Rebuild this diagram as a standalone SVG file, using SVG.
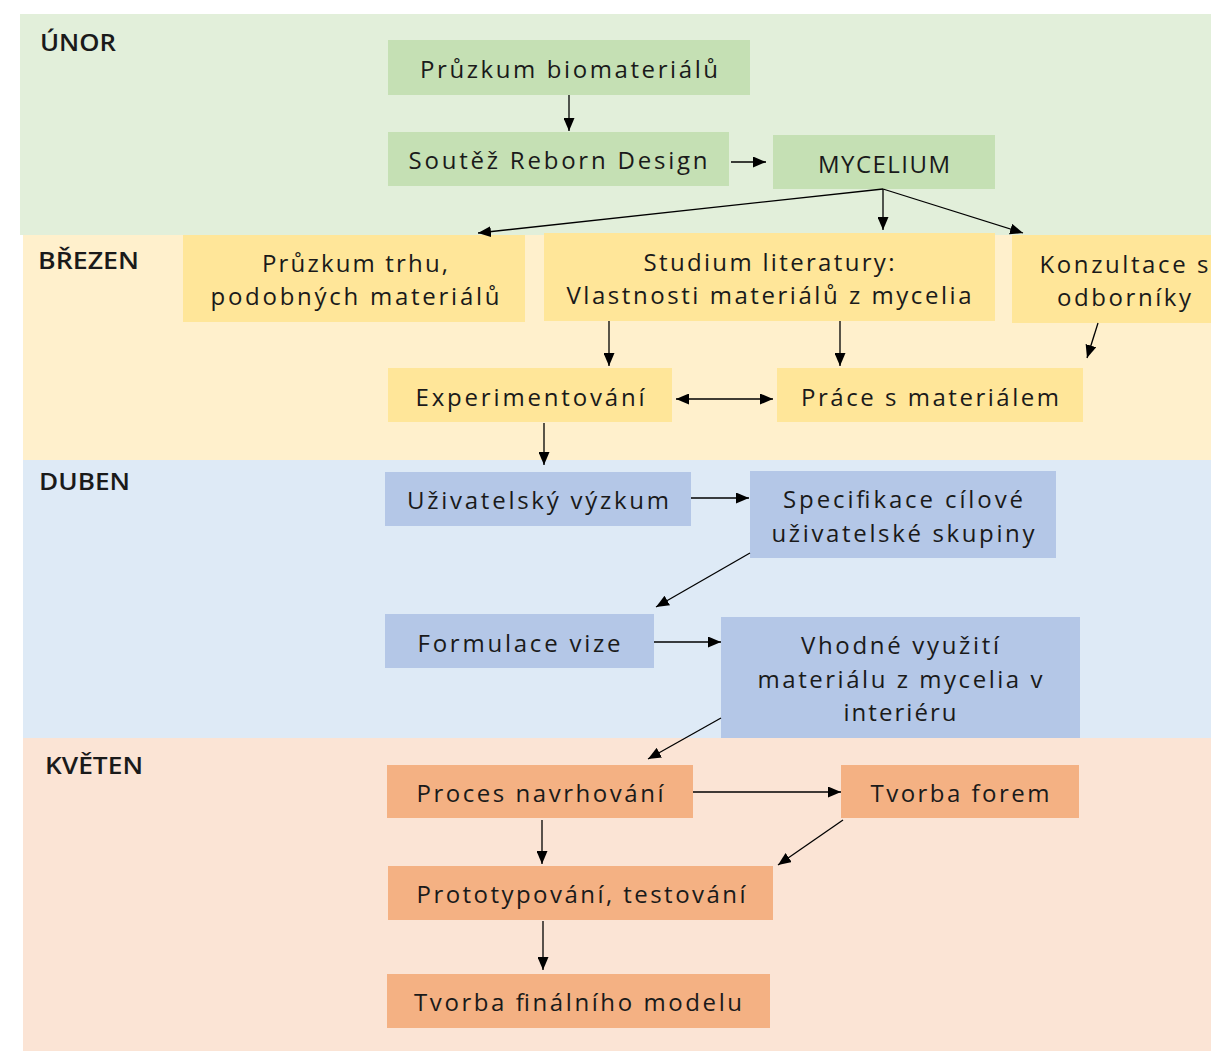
<svg xmlns="http://www.w3.org/2000/svg" width="1211" height="1051" viewBox="0 0 1211 1051">
<defs>
<style>
text{font-family:"Open Sans","Liberation Sans","DejaVu Sans",sans-serif;fill:#1a1a1a;}
.t{font-size:24px;text-anchor:middle;}
.m{font-size:23px;font-weight:600;}
.g{fill:#c5e0b4;}
.y{fill:#ffe699;}
.b{fill:#b4c7e7;}
.o{fill:#f4b183;}
.c{stroke:#000;stroke-width:1.3;fill:none;marker-end:url(#ah);}
</style>
<marker id="ah" viewBox="0 0 13 11" refX="13" refY="5.5" markerWidth="13" markerHeight="11" markerUnits="userSpaceOnUse" orient="auto">
<path d="M0,0 L13,5.5 L0,11 z" fill="#000"/>
</marker>
<marker id="as" viewBox="0 0 13 11" refX="0" refY="5.5" markerWidth="13" markerHeight="11" markerUnits="userSpaceOnUse" orient="auto">
<path d="M13,0 L0,5.5 L13,11 z" fill="#000"/>
</marker>
</defs>
<rect width="1211" height="1051" fill="#fff"/>
<g id="bands">
<rect x="20" y="14" width="1191" height="221" fill="#e2efda"/>
<rect x="23" y="235" width="1188" height="225" fill="#fff0cc"/>
<rect x="23" y="460" width="1188" height="278" fill="#deeaf6"/>
<rect x="23" y="738" width="1188" height="313" fill="#fbe4d5"/>
<text class="m" x="40" y="51" textLength="76" lengthAdjust="spacingAndGlyphs">ÚNOR</text>
<text class="m" x="38" y="269" textLength="101" lengthAdjust="spacingAndGlyphs">BŘEZEN</text>
<text class="m" x="39" y="490" textLength="91" lengthAdjust="spacingAndGlyphs">DUBEN</text>
<text class="m" x="45" y="774" textLength="98" lengthAdjust="spacingAndGlyphs">KVĚTEN</text>
</g>
<g id="n1"><rect class="g" x="388" y="40" width="362" height="55"/><text class="t" x="569" y="78" textLength="298">Průzkum biomateriálů</text></g>
<g id="n2"><rect class="g" x="388" y="132" width="341" height="54"/><text class="t" x="558" y="169" textLength="299">Soutěž Reborn Design</text></g>
<g id="n3"><rect class="g" x="773" y="135" width="222" height="54"/><text class="t" x="884" y="173" textLength="132">MYCELIUM</text></g>
<g id="n4"><rect class="y" x="183" y="235" width="342" height="87"/><text class="t" x="355" y="272" textLength="186">Průzkum trhu,</text><text class="t" x="355" y="305" textLength="289">podobných materiálů</text></g>
<g id="n5"><rect class="y" x="544" y="233" width="451" height="88"/><text class="t" x="769" y="271" textLength="251">Studium literatury:</text><text class="t" x="769" y="304" textLength="405">Vlastnosti materiálů z mycelia</text></g>
<g id="n6"><rect class="y" x="1012" y="235" width="199" height="88"/><text class="t" x="1124" y="273" textLength="169">Konzultace s</text><text class="t" x="1124" y="306" textLength="134">odborníky</text></g>
<g id="n7"><rect class="y" x="388" y="368" width="284" height="54"/><text class="t" x="530" y="406" textLength="229">Experimentování</text></g>
<g id="n8"><rect class="y" x="777" y="368" width="306" height="54"/><text class="t" x="930" y="406" textLength="258">Práce s materiálem</text></g>
<g id="n9"><rect class="b" x="385" y="472" width="306" height="54"/><text class="t" x="538" y="509" textLength="262">Uživatelský výzkum</text></g>
<g id="n10"><rect class="b" x="750" y="471" width="306" height="87"/><text class="t" x="903" y="508" textLength="240">Specifikace cílové</text><text class="t" x="903" y="542" textLength="263">uživatelské skupiny</text></g>
<g id="n11"><rect class="b" x="385" y="614" width="269" height="54"/><text class="t" x="519" y="652" textLength="203">Formulace vize</text></g>
<g id="n12"><rect class="b" x="721" y="617" width="359" height="121"/><text class="t" x="900" y="654" textLength="198">Vhodné využití</text><text class="t" x="900" y="688" textLength="285">materiálu z mycelia v</text><text class="t" x="900" y="721" textLength="113">interiéru</text></g>
<g id="n13"><rect class="o" x="387" y="765" width="306" height="53"/><text class="t" x="540" y="802" textLength="247">Proces navrhování</text></g>
<g id="n14"><rect class="o" x="841" y="765" width="238" height="53"/><text class="t" x="960" y="802" textLength="179">Tvorba forem</text></g>
<g id="n15"><rect class="o" x="388" y="866" width="385" height="54"/><text class="t" x="581" y="903" textLength="329">Prototypování, testování</text></g>
<g id="n16"><rect class="o" x="387" y="974" width="383" height="54"/><text class="t" x="578" y="1011" textLength="328">Tvorba finálního modelu</text></g>
<g id="connectors">
<line class="c" x1="569" y1="95" x2="569" y2="131"/>
<line class="c" x1="731" y1="162" x2="766" y2="162"/>
<line class="c" x1="883" y1="189" x2="478" y2="233"/>
<line class="c" x1="883" y1="189" x2="883" y2="230"/>
<line class="c" x1="883" y1="189" x2="1023" y2="233"/>
<line class="c" x1="609" y1="321" x2="609" y2="366"/>
<line class="c" x1="840" y1="321" x2="840" y2="366"/>
<line class="c" x1="1098" y1="323" x2="1087" y2="358"/>
<line class="c" x1="676" y1="399" x2="773" y2="399" marker-start="url(#as)"/>
<line class="c" x1="544" y1="423" x2="544" y2="465"/>
<line class="c" x1="691" y1="498" x2="749" y2="498"/>
<line class="c" x1="750" y1="553" x2="656" y2="607"/>
<line class="c" x1="654" y1="642" x2="721" y2="642"/>
<line class="c" x1="721" y1="718" x2="648" y2="759"/>
<line class="c" x1="693" y1="792" x2="841" y2="792"/>
<line class="c" x1="542" y1="820" x2="542" y2="864"/>
<line class="c" x1="843" y1="820" x2="778" y2="865"/>
<line class="c" x1="543" y1="921" x2="543" y2="970"/>
</g>
</svg>
